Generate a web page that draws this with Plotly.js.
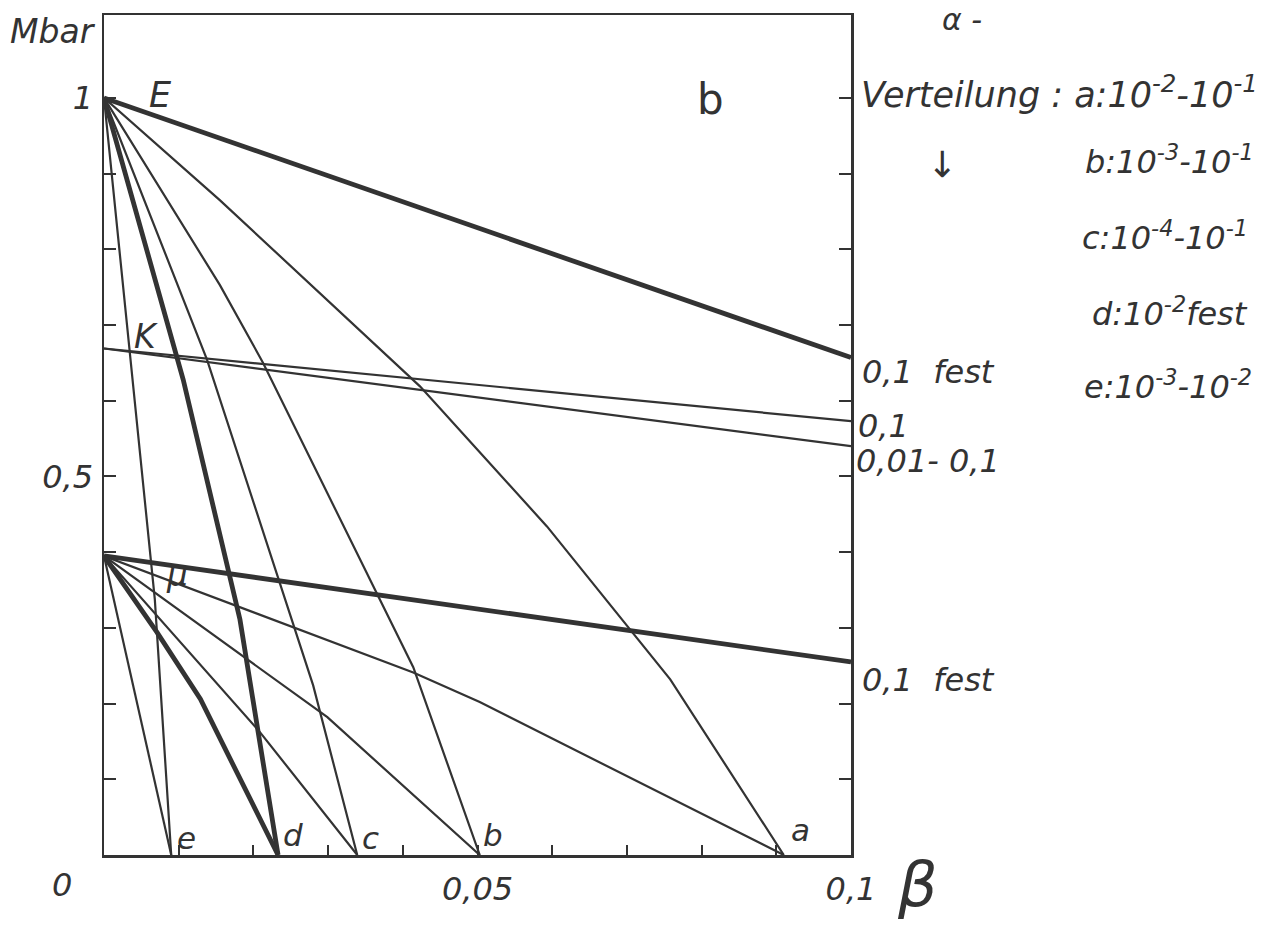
<!DOCTYPE html>
<html><head><meta charset="utf-8">
<script src="https://cdn.plot.ly/plotly-3.0.1.min.js"></script>
<style>html,body{margin:0;padding:0;background:#fff}#chart{width:1274px;height:928px}</style>
</head><body><div id="chart"></div>
<script>
// ---- data (beta on x, pressure in Mbar on y) ----
// lines starting at E
const E_fest_x = [0, 0.1];
const E_fest_y = [1.0, 0.657];
const E_a_x = [0, 0.0155, 0.0423, 0.0593, 0.0758, 0.0910];
const E_a_y = [1.0, 0.865, 0.619, 0.434, 0.232, 0];
const E_b_x = [0, 0.0155, 0.0213, 0.0303, 0.0414, 0.0503];
const E_b_y = [1.0, 0.753, 0.650, 0.470, 0.248, 0];
const E_c_x = [0, 0.0138, 0.0280, 0.0339];
const E_c_y = [1.0, 0.654, 0.224, 0];
const E_d_x = [0, 0.0106, 0.0182, 0.0233];
const E_d_y = [1.0, 0.628, 0.311, 0];
const E_e_x = [0, 0.0039, 0.0068, 0.0090];
const E_e_y = [1.0, 0.621, 0.338, 0];
// lines starting at K
const K_01_x = [0, 0.1];
const K_01_y = [0.669, 0.573];
const K_001_x = [0, 0.1];
const K_001_y = [0.669, 0.540];
// lines starting at mu
const M_fest_x = [0, 0.1];
const M_fest_y = [0.395, 0.255];
const M_a_x = [0, 0.0414, 0.0503, 0.0910];
const M_a_y = [0.395, 0.241, 0.202, 0];
const M_b_x = [0, 0.0299, 0.0503];
const M_b_y = [0.395, 0.182, 0];
const M_c_x = [0, 0.0209, 0.0339];
const M_c_y = [0.395, 0.162, 0];
const M_d_x = [0, 0.0071, 0.0129, 0.0233];
const M_d_y = [0.395, 0.294, 0.206, 0];
const M_e_x = [0, 0.0090];
const M_e_y = [0.395, 0];

const xTickVals = [0.05, 0.1];
const xTickText = ['0,05', '0,1'];
const xMinorVals = [0.01, 0.02, 0.03, 0.04, 0.06, 0.07, 0.08, 0.09];
const yTickVals = [0.5, 1.0];
const yTickText = ['0,5', '1'];
const yMinorVals = [0.1, 0.2, 0.3, 0.4, 0.6, 0.7, 0.8, 0.9];

const INK = '#333333';
const FONT = 'DejaVu Sans';
const THIN = 2.2, THICK = 4.8;

function line(x, y, w, name) {
  return {type: 'scatter', mode: 'lines', x: x, y: y, name: name,
          line: {color: INK, width: w, shape: 'linear'}, hoverinfo: 'skip', showlegend: false};
}

const traces = [
  line(E_fest_x, E_fest_y, THICK, 'E 0,1 fest'),
  line(E_a_x, E_a_y, THIN, 'E a'),
  line(E_b_x, E_b_y, THIN, 'E b'),
  line(E_c_x, E_c_y, THIN, 'E c'),
  line(E_d_x, E_d_y, THICK, 'E d'),
  line(E_e_x, E_e_y, THIN, 'E e'),
  line(K_01_x, K_01_y, THIN, 'K 0,1'),
  line(K_001_x, K_001_y, THIN, 'K 0,01-0,1'),
  line(M_fest_x, M_fest_y, THICK, 'mu 0,1 fest'),
  line(M_a_x, M_a_y, THIN, 'mu a'),
  line(M_b_x, M_b_y, THIN, 'mu b'),
  line(M_c_x, M_c_y, THIN, 'mu c'),
  line(M_d_x, M_d_y, THICK, 'mu d'),
  line(M_e_x, M_e_y, THIN, 'mu e')
];

// pixel -> paper helpers for label placement (plot area 104..851 x 15..855)
const PX = x => (x - 104) / 747;
const PY = y => (855 - y) / 840;
function lab(text, x, y, size, opts) {
  return Object.assign({xref: 'paper', yref: 'paper', x: PX(x), y: PY(y), text: text,
    showarrow: false, xanchor: 'center', yanchor: 'middle',
    font: {family: FONT, size: size, color: INK, style: 'italic'}}, opts || {});
}

const annotations = [
  lab('Mbar', 53, 31, 33),
  lab('E', 160, 95, 35),
  lab('K', 146, 336, 33),
  lab('μ', 177, 574, 33),
  lab('b', 710, 100, 42, {font: {family: FONT, size: 42, color: INK}}),
  lab('0', 62, 885, 32),
  lab('β', 917, 884, 62, {font: {family: FONT, size: 62, color: INK, style: 'italic'}}),
  lab('e', 186, 838, 31),
  lab('d', 293, 835, 31),
  lab('c', 370, 838, 31),
  lab('b', 493, 835, 31),
  lab('a', 800, 830, 31),
  lab('0,1  fest', 860, 372, 32, {xanchor: 'left'}),
  lab('0,1', 856, 426, 32, {xanchor: 'left'}),
  lab('0,01- 0,1', 854, 461, 32, {xanchor: 'left'}),
  lab('0,1  fest', 860, 680, 32, {xanchor: 'left'}),
  lab('α -', 962, 20, 30),
  lab('Verteilung : a:10<sup>-2</sup>-10<sup>-1</sup>', 1260, 92, 35, {xanchor: 'right'}),
  lab('↓', 942, 164, 36),
  lab('b:10<sup>-3</sup>-10<sup>-1</sup>', 1256, 160, 32, {xanchor: 'right'}),
  lab('c:10<sup>-4</sup>-10<sup>-1</sup>', 1250, 236, 32, {xanchor: 'right'}),
  lab('d:10<sup>-2</sup>fest', 1250, 312, 32, {xanchor: 'right'}),
  lab('e:10<sup>-3</sup>-10<sup>-2</sup>', 1254, 385, 32, {xanchor: 'right'})
];

const layout = {
  width: 1274, height: 928,
  margin: {l: 104, r: 423, t: 15, b: 73, pad: 0},
  paper_bgcolor: '#ffffff', plot_bgcolor: '#ffffff',
  showlegend: false,
  xaxis: {range: [0, 0.1], tickmode: 'array', tickvals: xTickVals, ticktext: xTickText,
          ticks: 'inside', ticklen: 10, tickwidth: 2, tickcolor: INK,
          minor: {tickmode: 'array', tickvals: xMinorVals, ticks: 'inside', ticklen: 10,
                  tickwidth: 2, tickcolor: INK, showgrid: false},
          showline: true, linewidth: 2.5, linecolor: INK, mirror: true,
          showgrid: false, zeroline: false, ticklabelstandoff: 4,
          tickfont: {family: FONT, size: 32, color: INK, style: 'italic'}},
  yaxis: {range: [0, 1.1095], tickmode: 'array', tickvals: yTickVals, ticktext: yTickText,
          ticks: 'inside', ticklen: 12, tickwidth: 2, tickcolor: INK,
          minor: {tickmode: 'array', tickvals: yMinorVals, ticks: 'inside', ticklen: 12,
                  tickwidth: 2, tickcolor: INK, showgrid: false},
          showline: true, linewidth: 2.5, linecolor: INK, mirror: 'ticks',
          showgrid: false, zeroline: false, ticklabelstandoff: 2,
          tickfont: {family: FONT, size: 32, color: INK, style: 'italic'}},
  annotations: annotations
};

Plotly.newPlot('chart', traces, layout, {staticPlot: true, displayModeBar: false});
</script>
</body></html>
